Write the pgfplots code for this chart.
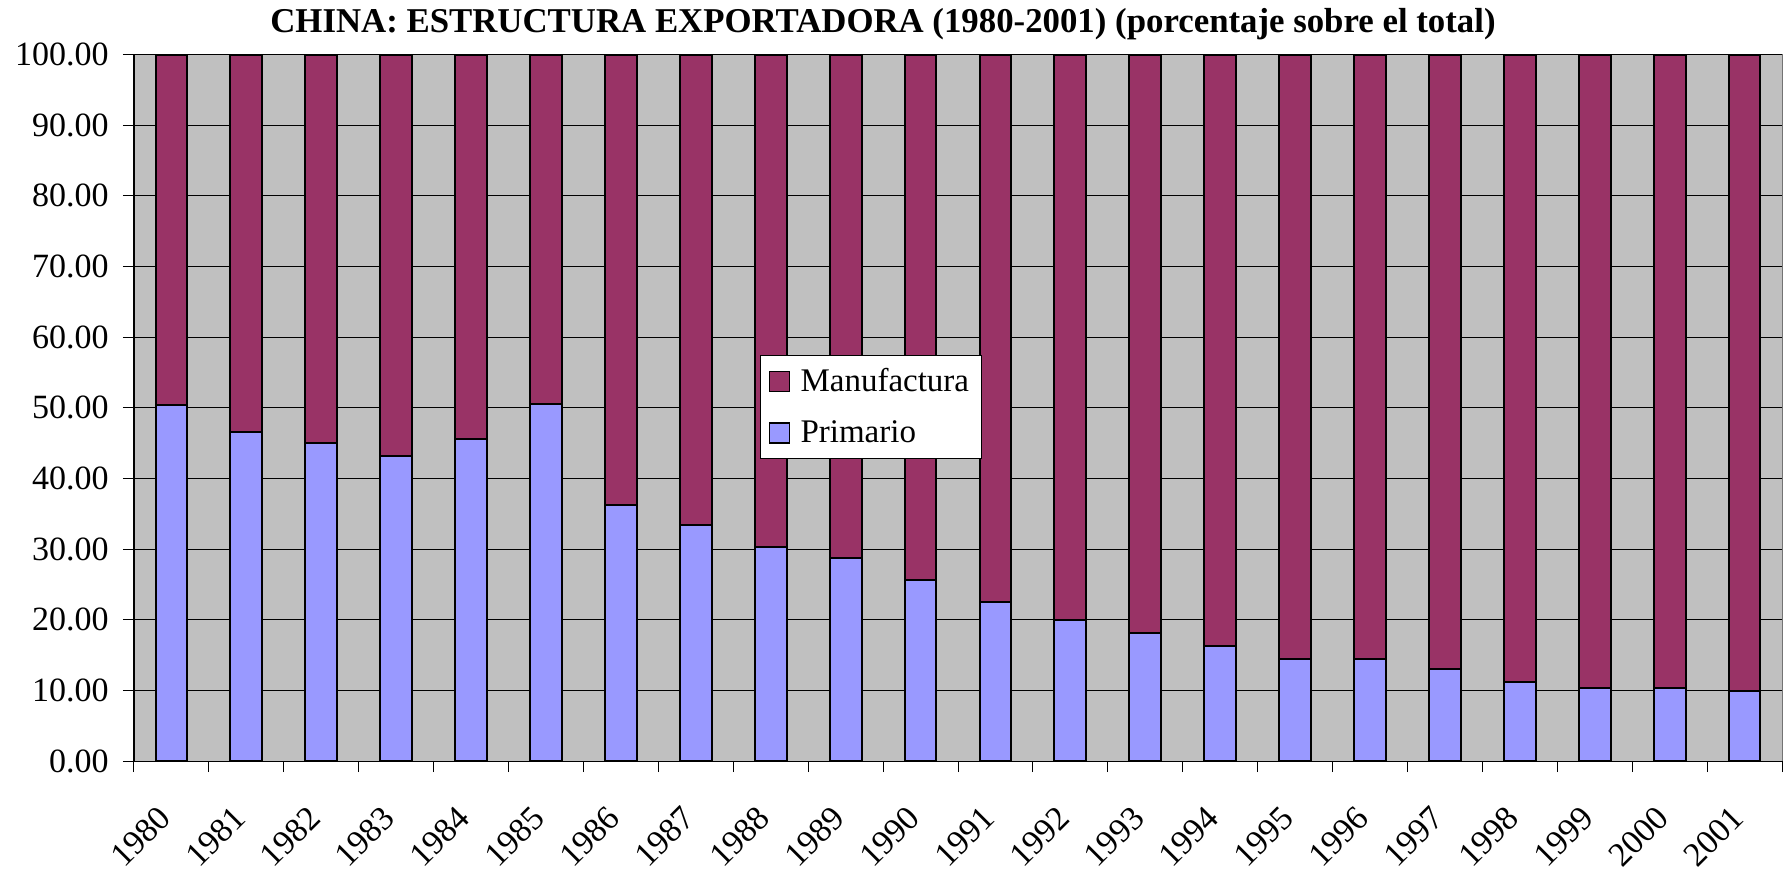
\documentclass[border=0pt]{standalone}
\usepackage{fontspec}
\setmainfont{Liberation Serif}
\usepackage{pgfplots}
\pgfplotsset{compat=1.18}
\definecolor{manuf}{HTML}{993366}
\definecolor{prim}{HTML}{9999FF}
\definecolor{bg}{HTML}{C0C0C0}
\begin{document}
\begin{tikzpicture}
\begin{axis}[
  name=ax,
  scale only axis,
  width=824bp, height=353.3bp,
  xmin=-0.5, xmax=21.5,
  ymin=0, ymax=100,
  ybar stacked,
  bar width=0.425,
  axis background/.style={fill=bg, draw=black!55},
  axis x line*=bottom, axis y line*=left,
  axis line style={black, line width=0.6bp},
  ymajorgrids, grid style={black, line width=0.5bp},
  ytick={0,10,...,100},
  /pgf/number format/fixed, /pgf/number format/fixed zerofill, /pgf/number format/precision=2,
  /pgf/number format/assume math mode=true,
  tick align=outside,
  major tick length=5.5bp,
  minor tick length=5.5bp,
  tick style={black, line width=0.5bp},
  xtick={0,...,21},
  xticklabels={1980,1981,1982,1983,1984,1985,1986,1987,1988,1989,1990,1991,1992,1993,1994,1995,1996,1997,1998,1999,2000,2001},
  major x tick style={draw=none},
  minor xtick={-0.5,0.5,...,21.5},
  minor x tick style={black, line width=0.5bp},
  ticklabel style={font=\fontsize{17bp}{20bp}\selectfont},
  xticklabel style={rotate=45, anchor=east, inner sep=0pt, xshift=-16.6bp, yshift=-11.8bp},
  yticklabel style={inner sep=0pt, xshift=-7bp},
  title={CHINA: ESTRUCTURA EXPORTADORA (1980-2001) (porcentaje sobre el total)},
  title style={at={(0.4545,1)}, anchor=base, yshift=5bp, inner sep=0pt, font=\bfseries\fontsize{17.4bp}{20bp}\selectfont},
  legend style={at={(0.380,0.575)}, anchor=north west, draw=black, line width=0.5bp, fill=white,
    font=\fontsize{16.5bp}{18bp}\selectfont, inner xsep=4bp, inner ysep=4.5bp, row sep=9bp, cells={anchor=west}},
  legend image code/.code={\draw[#1, line width=0.8bp] (0bp,-5bp) rectangle (10bp,5bp); \path (13bp,0bp);},
  reverse legend,
]
\addplot[fill=prim, draw=black, line width=1bp] coordinates {
(0,50.4) (1,46.6) (2,45.0) (3,43.2) (4,45.6) (5,50.6) (6,36.2) (7,33.4) (8,30.3) (9,28.8) (10,25.6)
(11,22.5) (12,20.0) (13,18.1) (14,16.3) (15,14.4) (16,14.4) (17,13.1) (18,11.2) (19,10.3) (20,10.3) (21,9.9)};
\addlegendentry{Primario}
\addplot[fill=manuf, draw=black, line width=1bp] coordinates {
(0,49.6) (1,53.4) (2,55.0) (3,56.8) (4,54.4) (5,49.4) (6,63.8) (7,66.6) (8,69.7) (9,71.2) (10,74.4)
(11,77.5) (12,80.0) (13,81.9) (14,83.7) (15,85.6) (16,85.6) (17,86.9) (18,88.8) (19,89.7) (20,89.7) (21,90.1)};
\addlegendentry{Manufactura}
\end{axis}
\path ([xshift=-67bp,yshift=-55.85bp]ax.south west) rectangle ([xshift=1bp,yshift=27.3bp]ax.north east);
\end{tikzpicture}
\end{document}
